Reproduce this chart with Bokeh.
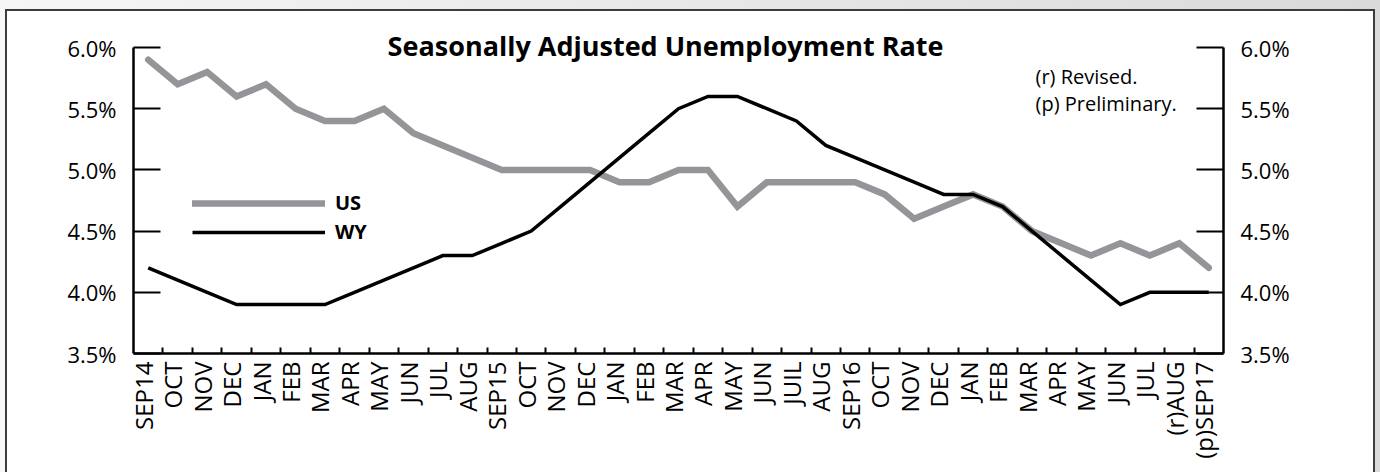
import math
from bokeh.plotting import figure
from bokeh.models import (Range1d, FixedTicker, LinearAxis, PrintfTickFormatter,
                          Legend, LegendItem, Label, ColumnDataSource)
from bokeh.embed import file_html
from bokeh.resources import INLINE

# ---------------- data ----------------
months = ["SEP14", "OCT", "NOV", "DEC", "JAN", "FEB", "MAR", "APR", "MAY", "JUN",
          "JUL", "AUG", "SEP15", "OCT", "NOV", "DEC", "JAN", "FEB", "MAR", "APR",
          "MAY", "JUN", "JUIL", "AUG", "SEP16", "OCT", "NOV", "DEC", "JAN", "FEB",
          "MAR", "APR", "MAY", "JUN", "JUL", "(r)AUG", "(p)SEP17"]
us = [5.9, 5.7, 5.8, 5.6, 5.7, 5.5, 5.4, 5.4, 5.5, 5.3,
      5.2, 5.1, 5.0, 5.0, 5.0, 5.0, 4.9, 4.9, 5.0, 5.0,
      4.7, 4.9, 4.9, 4.9, 4.9, 4.8, 4.6, 4.7, 4.8, 4.7,
      4.5, 4.4, 4.3, 4.4, 4.3, 4.4, 4.2]
wy = [4.2, 4.1, 4.0, 3.9, 3.9, 3.9, 3.9, 4.0, 4.1, 4.2,
      4.3, 4.3, 4.4, 4.5, 4.7, 4.9, 5.1, 5.3, 5.5, 5.6,
      5.6, 5.5, 5.4, 5.2, 5.1, 5.0, 4.9, 4.8, 4.8, 4.7,
      4.5, 4.3, 4.1, 3.9, 4.0, 4.0, 4.0]
y_ticks = [3.5, 4.0, 4.5, 5.0, 5.5, 6.0]
title_text = "Seasonally Adjusted Unemployment Rate"
notes = ["(r) Revised.", "(p) Preliminary."]
series_names = ["US", "WY"]

idx = list(range(len(months)))
src = ColumnDataSource(dict(x=idx, us=us, wy=wy))

FONT = "Open Sans"
GRAY = "#939598"

bg = ", ".join([
    "linear-gradient(#3c3c3c,#3c3c3c) 5px 9px / 1370px 2px no-repeat",
    "linear-gradient(#3c3c3c,#3c3c3c) 5px 9px / 2px 463px no-repeat",
    "linear-gradient(#3c3c3c,#3c3c3c) 1373px 9px / 2px 463px no-repeat",
    "linear-gradient(#ffffff,#ffffff) 5px 9px / 1370px 463px no-repeat",
    "linear-gradient(to right, #f6f6f6, #dadada)",
])

# frame spans from y=20px to y=353px; axis lines stop at 6.0 via bounds
Y_LO, Y_HI = 3.5, 6.0
Y_TOP = Y_LO + (353 - 20) / 122.4

p = figure(width=1380, height=472, output_backend="svg", toolbar_location=None,
           x_range=Range1d(-0.5, len(months) - 0.5), y_range=Range1d(Y_LO, Y_TOP),
           min_border_left=133, min_border_right=157, min_border_top=20,
           min_border_bottom=119)
p.styles = {"position": "absolute", "left": "0px", "top": "0px", "background": bg}
p.border_fill_alpha = 0
p.background_fill_alpha = 0
p.outline_line_color = None
p.grid.visible = False

# lines
us_r = p.line("x", "us", source=src, line_color=GRAY, line_width=6.5,
              line_join="miter", line_cap="round")
wy_r = p.line("x", "wy", source=src, line_color="black", line_width=3.5,
              line_join="miter", line_cap="butt")

# x axis (labels nudged slightly left of the category centre, as in the original)
LABEL_NUDGE = 0.17
label_pos = [round(i - LABEL_NUDGE, 2) for i in idx]
xa = p.xaxis[0]
xa.ticker = FixedTicker(ticks=label_pos, minor_ticks=[i + 0.5 for i in idx[:-1]])
xa.major_label_overrides = {pos: m for pos, m in zip(label_pos, months)}
xa.major_label_orientation = math.pi / 2
xa.major_tick_line_color = None
xa.major_tick_in = 0
xa.major_tick_out = 0
xa.minor_tick_in = 6
xa.minor_tick_out = 0
xa.minor_tick_line_color = "black"
xa.minor_tick_line_width = 2
xa.axis_line_color = "black"
xa.axis_line_width = 2.5
xa.major_label_standoff = 8
xa.major_label_text_font = FONT
xa.major_label_text_font_size = "24px"
xa.major_label_text_color = "black"

# y axes
def style_y(ax):
    ax.ticker = FixedTicker(ticks=y_ticks, minor_ticks=[])
    ax.bounds = (Y_LO, Y_HI)
    ax.formatter = PrintfTickFormatter(format="%.1f%%")
    ax.major_tick_in = 27
    ax.major_tick_out = 0
    ax.major_tick_line_width = 2
    ax.major_tick_line_color = "black"
    ax.minor_tick_line_color = None
    ax.axis_line_color = "black"
    ax.axis_line_width = 2.5
    ax.major_label_standoff = 17
    ax.major_label_text_font = FONT
    ax.major_label_text_font_size = "22px"
    ax.major_label_text_color = "black"

style_y(p.yaxis[0])
right = LinearAxis()
style_y(right)
p.add_layout(right, "right")

# legend
legend = Legend(items=[LegendItem(label=series_names[0], renderers=[us_r]),
                       LegendItem(label=series_names[1], renderers=[wy_r])],
                location=(59, 108), glyph_width=133, glyph_height=20,
                label_height=20, spacing=2, label_standoff=10, padding=0,
                margin=0, border_line_color=None, background_fill_alpha=0,
                label_text_font=FONT, label_text_font_style="bold",
                label_text_font_size="20px", label_text_color="black")
p.add_layout(legend)

# title and notes
p.add_layout(Label(x=17.56, y=6.016, text=title_text, text_font=FONT,
                   text_font_style="bold", text_font_size="27px",
                   text_align="center", text_baseline="alphabetic",
                   text_color="black"))
p.add_layout(Label(x=30.12, y=5.76, text=notes[0], text_font=FONT,
                   text_font_size="20px", text_align="left",
                   text_baseline="alphabetic", text_color="black"))
p.add_layout(Label(x=30.12, y=5.54, text=notes[1], text_font=FONT,
                   text_font_size="20px", text_align="left",
                   text_baseline="alphabetic", text_color="black"))

open("out.html", "w").write(file_html(p, INLINE))
